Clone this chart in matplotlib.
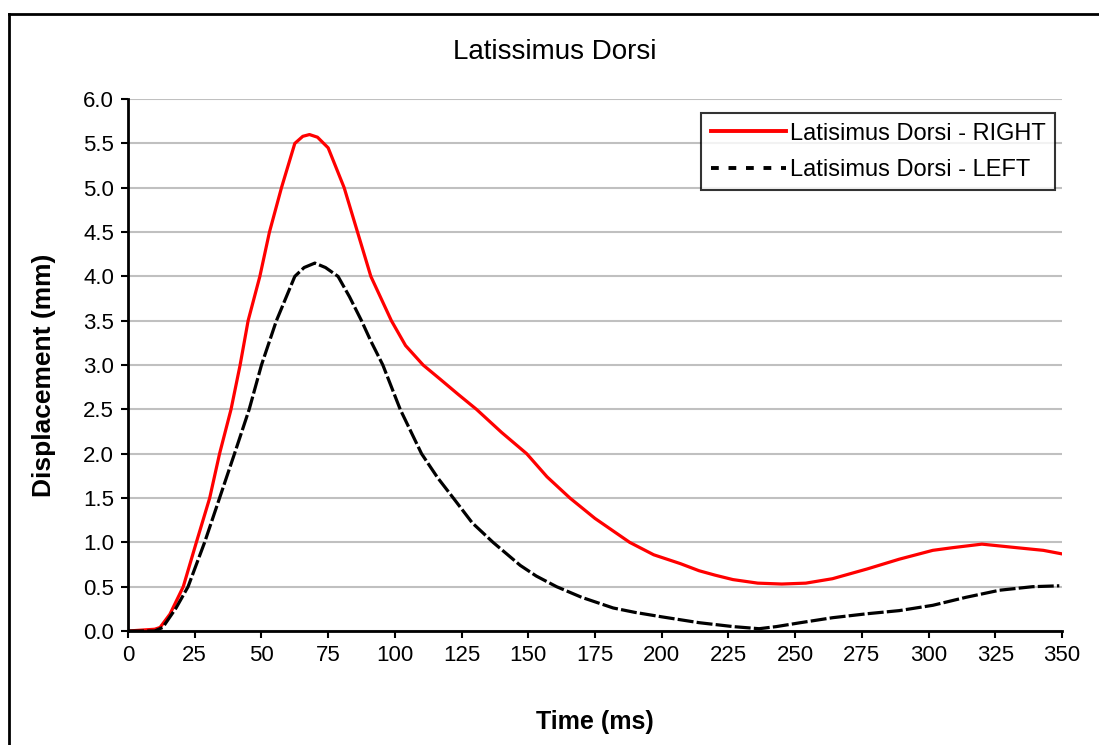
import numpy as np
import matplotlib
matplotlib.use("Agg")
from matplotlib import pyplot as plt
from matplotlib.lines import Line2D

plt.rcParams['font.family'] = ['Liberation Sans', 'DejaVu Sans']

t_right = [0, 10, 12, 15.7, 20.7, 25.6, 30.6, 34.3, 38.6, 42, 45, 49.4, 53, 57.5, 62.5, 65.5, 68, 71,
           75, 81, 86, 91, 98.7, 104, 110.6, 117, 123.7, 130.6, 140, 149.4, 157, 165.6, 175, 188,
           197, 207, 214, 220, 226.7, 236, 245, 254, 264, 277, 289, 301.6, 309, 320, 333, 343, 350]
d_right = [0, 0.02, 0.04, 0.19, 0.5, 1.0, 1.5, 2.0, 2.5, 3.0, 3.5, 4.0, 4.5, 5.0, 5.5, 5.58, 5.6, 5.57,
           5.45, 5.0, 4.5, 4.0, 3.5, 3.22, 3.0, 2.84, 2.67, 2.5, 2.24, 2.0, 1.74, 1.5, 1.27, 1.0,
           0.86, 0.76, 0.68, 0.63, 0.58, 0.54, 0.53, 0.54, 0.59, 0.70, 0.81, 0.91, 0.94, 0.98, 0.94, 0.91, 0.87]

t_left = [0, 10, 13, 18, 22.5, 28.7, 34.3, 39.9, 45.4, 50, 55.6, 62.5, 66, 70, 74, 78.7, 83, 87.5, 91,
          95.5, 102, 110, 116, 121.9, 129, 136.8, 147, 153, 160.6, 170, 181.8, 190, 200, 214, 226.7,
          236.5, 243, 252, 264, 277, 289, 301.6, 314, 326.6, 339, 349]
d_left = [0, 0.0, 0.04, 0.26, 0.5, 1.0, 1.5, 2.0, 2.5, 3.0, 3.5, 4.0, 4.1, 4.15, 4.1, 4.0, 3.77, 3.5, 3.27,
          3.0, 2.5, 2.0, 1.73, 1.5, 1.22, 1.0, 0.74, 0.62, 0.5, 0.38, 0.26, 0.21, 0.16, 0.094, 0.05,
          0.026, 0.05, 0.094, 0.15, 0.195, 0.23, 0.29, 0.38, 0.46, 0.5, 0.51]

xticks = np.arange(0, 351, 25)
yticks = np.arange(0, 6.01, 0.5)

fig = plt.figure(figsize=(10.99, 7.45), dpi=100)
ax = fig.add_axes([0.1165, 0.153, 0.8498, 0.714])

ax.plot(t_right, d_right, color='#ff0000', lw=2.3, label='Latisimus Dorsi - RIGHT')
ax.plot(t_left, d_left, color='black', lw=2.3, dashes=(5, 1), label='Latisimus Dorsi - LEFT')

ax.set_xlim(0, 350)
ax.set_ylim(0, 6)
ax.set_xticks(xticks)
ax.set_yticks(yticks)
ax.set_yticklabels(['%.1f' % v for v in yticks])
ax.tick_params(labelsize=16, direction='out', length=5, width=1.5, pad=5)
ax.yaxis.grid(True, color='#c0c0c0', lw=1.5)
ax.set_axisbelow(True)
for s in ['top', 'right']:
    ax.spines[s].set_visible(False)
for s in ['left', 'bottom']:
    ax.spines[s].set_linewidth(2)

ax.set_title('Latissimus Dorsi', fontsize=20, pad=29, x=0.457)
ax.set_xlabel('Time (ms)', fontsize=18, fontweight='bold', labelpad=32)
ax.set_ylabel('Displacement (mm)', fontsize=19, fontweight='bold', labelpad=20)
ax.yaxis.set_label_coords(-0.077, 0.48)

handles = [Line2D([], [], color='#ff0000', lw=2.8),
           Line2D([], [], color='black', lw=2.8, dashes=(2, 2.5))]
leg = ax.legend(handles, ['Latisimus Dorsi - RIGHT', 'Latisimus Dorsi - LEFT'],
                loc='upper right', bbox_to_anchor=(0.9925, 0.9735), fontsize=17,
                frameon=True, fancybox=False, handlelength=3.2, handletextpad=0.15,
                borderpad=0.4, labelspacing=0.6, borderaxespad=0)
leg.get_frame().set_edgecolor('black')
leg.get_frame().set_linewidth(1.5)

# outer chart border (left and top only visible)
fig.add_artist(Line2D([9/1099, 9/1099], [0, 1 - 14/745], color='black', lw=2, transform=fig.transFigure))
fig.add_artist(Line2D([9/1099, 1], [1 - 14/745, 1 - 14/745], color='black', lw=2, transform=fig.transFigure))

plt.savefig('out.png', dpi=100)
